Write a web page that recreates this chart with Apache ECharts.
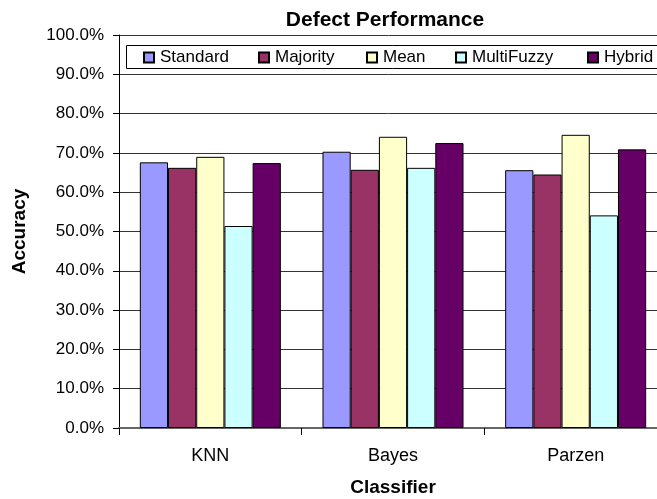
<!DOCTYPE html>
<html>
<head>
<meta charset="utf-8">
<title>Defect Performance</title>
<script src="https://cdn.jsdelivr.net/npm/echarts@6/dist/echarts.min.js"></script>
<style>
  html, body { margin: 0; padding: 0; background: #ffffff; }
  #chart { width: 657px; height: 499px; }
</style>
</head>
<body>
<div id="chart"></div>
<script>
// Classifier accuracy per fusion method
const categories = ['KNN', 'Bayes', 'Parzen'];
const seriesNames = ['Standard', 'Majority', 'Mean', 'MultiFuzzy', 'Hybrid'];
const standardValues   = [0.676, 0.703, 0.656];
const majorityValues   = [0.662, 0.657, 0.645];
const meanValues       = [0.690, 0.741, 0.746];
const multiFuzzyValues = [0.514, 0.662, 0.541];
const hybridValues     = [0.674, 0.725, 0.709];
const yTicks = [0, 0.1, 0.2, 0.3, 0.4, 0.5, 0.6, 0.7, 0.8, 0.9, 1.0];

const seriesValues = [standardValues, majorityValues, meanValues, multiFuzzyValues, hybridValues];
const colors = ['#9999FF', '#993366', '#FFFFCC', '#CCFFFF', '#660066'];
const legendLeft = [143, 258, 366, 455, 587];
const FONT = '"Liberation Sans", Arial, sans-serif';

const chart = echarts.init(document.getElementById('chart'), null, { renderer: 'canvas' });

const option = {
  animation: false,
  backgroundColor: '#ffffff',
  title: {
    text: 'Defect Performance',
    left: 385,
    top: 10,
    padding: 0,
    textAlign: 'center',
    textStyle: { fontFamily: FONT, fontSize: 21, fontWeight: 'bold', color: '#000' }
  },
  graphic: [{
    type: 'rect',
    z: 3,
    silent: true,
    shape: { x: 126.5, y: 45.5, width: 600, height: 23 },
    style: { fill: '#ffffff', stroke: '#000000', lineWidth: 1 }
  }],
  legend: seriesNames.map((name, i) => ({
    data: [name],
    left: legendLeft[i],
    top: 49,
    padding: 0,
    z: 5,
    icon: 'rect',
    itemWidth: 10,
    itemHeight: 10,
    itemGap: 5,
    selectedMode: false,
    textStyle: { fontFamily: FONT, fontSize: 17, color: '#000', padding: [0, 0, 0, 1] }
  })),
  grid: {
    left: 119,
    top: 35,
    right: -10,
    bottom: 71,
    containLabel: false,
    outerBoundsMode: 'none'
  },
  xAxis: {
    type: 'category',
    data: categories,
    name: 'Classifier',
    nameLocation: 'middle',
    nameGap: 50,
    nameTextStyle: { fontFamily: FONT, fontSize: 19, fontWeight: 'bold', color: '#000' },
    axisLine: { show: true, lineStyle: { color: '#666', width: 2 } },
    axisTick: { show: true, interval: 0, alignWithLabel: false, length: 7, lineStyle: { color: '#000', width: 1 } },
    axisLabel: { margin: 19, fontFamily: FONT, fontSize: 18, color: '#000' },
    splitLine: { show: false }
  },
  yAxis: {
    type: 'value',
    min: yTicks[0],
    max: yTicks[yTicks.length - 1],
    interval: yTicks[1] - yTicks[0],
    name: 'Accuracy',
    nameLocation: 'middle',
    nameRotate: 90,
    nameGap: 90,
    nameTextStyle: { fontFamily: FONT, fontSize: 19, fontWeight: 'bold', color: '#000' },
    axisLine: { show: true, lineStyle: { color: '#000', width: 1 } },
    axisTick: { show: true, inside: false, length: 6, lineStyle: { color: '#000', width: 1 } },
    axisLabel: {
      margin: 15,
      fontFamily: FONT,
      fontSize: 17,
      color: '#000',
      formatter: v => (v * 100).toFixed(1) + '%'
    },
    splitLine: { show: true, lineStyle: { color: '#333', width: 1 } }
  },
  series: seriesNames.map((name, i) => ({
    name: name,
    type: 'bar',
    data: seriesValues[i],
    barGap: '0%',
    barCategoryGap: '22.8%',
    itemStyle: { color: colors[i], borderColor: '#000', borderWidth: 1 }
  }))
};

chart.setOption(option);
</script>
</body>
</html>
